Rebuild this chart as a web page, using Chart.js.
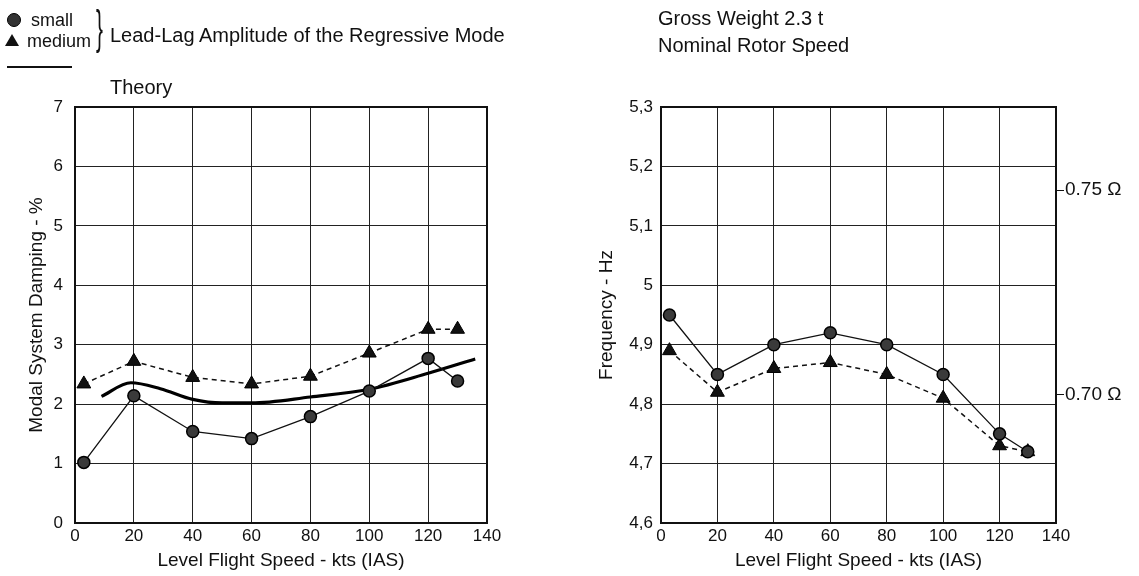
<!DOCTYPE html>
<html>
<head>
<meta charset="utf-8">
<script src="https://cdn.jsdelivr.net/npm/chart.js@4/dist/chart.umd.min.js"></script>
<style>
  html, body { margin: 0; padding: 0; background: #fff; }
  body { width: 1139px; height: 576px; position: relative; overflow: hidden;
         font-family: "Liberation Sans", Arial, sans-serif; color: #111; }
  .note { position: absolute; white-space: nowrap; line-height: 1; }
  #left-wrap { position: absolute; left: 0; top: 0; width: 570px; height: 576px; }
  #right-wrap { position: absolute; left: 570px; top: 0; width: 569px; height: 576px; }
  .brace { position: absolute; left: 96px; top: 4px; font-size: 46px; line-height: 1;
           transform: scaleX(0.45); transform-origin: left top; }
  .theory-line { position: absolute; left: 7px; top: 66px; width: 65px; border-top: 2px solid #111; }
  .mk-circle { position: absolute; left: 7px; top: 13px; width: 12px; height: 12px;
               border-radius: 50%; background: #333; border: 1px solid #000; }
  .mk-tri { position: absolute; left: 5px; top: 34px; width: 0; height: 0;
            border-left: 7px solid transparent; border-right: 7px solid transparent;
            border-bottom: 12px solid #111; }
</style>
</head>
<body>
<div id="left-wrap"><canvas id="chart-damping"></canvas></div>
<div id="right-wrap"><canvas id="chart-freq"></canvas></div>

<div class="mk-circle"></div>
<div class="note" style="left:31px; top:11px; font-size:18px;">small</div>
<div class="mk-tri"></div>
<div class="note" style="left:27px; top:32px; font-size:18px;">medium</div>
<div class="brace">}</div>
<div class="note" style="left:110px; top:25px; font-size:20px;">Lead-Lag Amplitude of the Regressive Mode</div>
<div class="theory-line"></div>
<div class="note" style="left:110px; top:77px; font-size:20px;">Theory</div>
<div class="note" style="left:658px; top:8px; font-size:20px;">Gross Weight 2.3 t</div>
<div class="note" style="left:658px; top:35px; font-size:20px;">Nominal Rotor Speed</div>

<script>
'use strict';

// flight speeds of the test points, kts (IAS)
var speeds = [3, 20, 40, 60, 80, 100, 120, 130];

// modal damping, %
var dampSmall  = [1.02, 2.14, 1.54, 1.42, 1.79, 2.22, 2.77, 2.39];
var dampMedium = [2.34, 2.72, 2.45, 2.34, 2.47, 2.86, 3.26, 3.26];

// theory curve
var theorySpeed = [9, 19, 29, 40, 50, 60, 80, 100, 120, 136];
var theoryDamp  = [2.13, 2.36, 2.26, 2.08, 2.02, 2.02, 2.12, 2.25, 2.52, 2.76];

// regressive mode frequency, Hz
var freqSmall  = [4.95, 4.85, 4.90, 4.92, 4.90, 4.85, 4.75, 4.72];
var freqMedium = [4.89, 4.82, 4.86, 4.87, 4.85, 4.81, 4.73, 4.72];

// rotor speed reference ticks on the right side
var omegaHz = 6.88;
var omegaTicks = [0.70, 0.75];

var FONT = 'Liberation Sans';
var INK = '#111';
var TICK_SIZE = 17;
var TITLE_SIZE = 19;

function pts(xs, ys) {
    return xs.map(function(x, i) { return { x: x, y: ys[i] }; });
}

var framePlugin = {
    id: 'frame',
    beforeDatasetsDraw: function(chart) {
        var a = chart.chartArea, ctx = chart.ctx;
        ctx.save();
        ctx.strokeStyle = INK;
        ctx.lineWidth = 2;
        ctx.strokeRect(a.left, a.top, a.right - a.left, a.bottom - a.top);
        ctx.restore();
    }
};

function circleSet(data) {
    return {
        data: data, borderColor: INK, borderWidth: 1.3,
        pointStyle: 'circle', pointRadius: 6, pointBackgroundColor: '#3a3a3a',
        pointBorderColor: '#000', pointBorderWidth: 1.5, tension: 0
    };
}

function triangleSet(data) {
    return {
        data: data, borderColor: INK, borderWidth: 1.5, borderDash: [5, 4],
        pointStyle: 'triangle', pointRadius: 8, pointBackgroundColor: '#111',
        pointBorderColor: '#000', pointBorderWidth: 1, tension: 0
    };
}

function xAxis() {
    return {
        type: 'linear', min: 0, max: 140,
        afterFit: function(s) { s.height = 53; },
        ticks: { stepSize: 20, color: INK, padding: 3, font: { family: FONT, size: TICK_SIZE } },
        grid: { color: '#222', lineWidth: 1, drawTicks: false },
        border: { display: false },
        title: { display: true, text: 'Level Flight Speed - kts (IAS)', color: INK,
                 font: { family: FONT, size: TITLE_SIZE }, padding: { top: 5 } }
    };
}

new Chart(document.getElementById('chart-damping'), {
    type: 'line',
    data: {
        datasets: [
            circleSet(pts(speeds, dampSmall)),
            triangleSet(pts(speeds, dampMedium)),
            {
                data: pts(theorySpeed, theoryDamp), borderColor: '#000', borderWidth: 3.2,
                pointRadius: 0, cubicInterpolationMode: 'monotone'
            }
        ]
    },
    options: {
        responsive: true, maintainAspectRatio: false, animation: false,
        layout: { padding: { top: 107, right: 83, left: 0, bottom: 0 } },
        plugins: { legend: { display: false }, tooltip: { enabled: false } },
        scales: {
            x: xAxis(),
            y: {
                min: 0, max: 7,
                afterFit: function(s) { s.width = 75; },
                ticks: { stepSize: 1, color: INK, padding: 12, font: { family: FONT, size: TICK_SIZE } },
                grid: { color: '#222', lineWidth: 1, drawTicks: false },
                border: { display: false },
                title: { display: true, text: 'Modal System Damping - %', color: INK,
                         font: { family: FONT, size: TITLE_SIZE }, padding: { top: 25, bottom: 0 } }
            }
        }
    },
    plugins: [framePlugin]
});

new Chart(document.getElementById('chart-freq'), {
    type: 'line',
    data: {
        datasets: [
            circleSet(pts(speeds, freqSmall)),
            triangleSet(pts(speeds, freqMedium))
        ]
    },
    options: {
        responsive: true, maintainAspectRatio: false, animation: false,
        layout: { padding: { top: 107, right: 0, left: 0, bottom: 0 } },
        plugins: { legend: { display: false }, tooltip: { enabled: false } },
        scales: {
            x: xAxis(),
            y: {
                min: 4.6, max: 5.3,
                afterFit: function(s) { s.width = 91; },
                ticks: {
                    stepSize: 0.1, color: INK, padding: 8, font: { family: FONT, size: TICK_SIZE },
                    callback: function(v) { return String(parseFloat(v.toFixed(1))).replace('.', ','); }
                },
                grid: { color: '#222', lineWidth: 1, drawTicks: false },
                border: { display: false },
                title: { display: true, text: 'Frequency - Hz', color: INK,
                         font: { family: FONT, size: TITLE_SIZE }, padding: { top: 25, bottom: 0 } }
            },
            omega: {
                position: 'right', min: 4.6, max: 5.3,
                afterFit: function(s) { s.width = 83; },
                afterBuildTicks: function(s) {
                    s.ticks = omegaTicks.map(function(w) { return { value: w * omegaHz }; });
                },
                ticks: {
                    color: INK, padding: 1, font: { family: FONT, size: 19 },
                    callback: function(v) {
                        var w = v / omegaHz;
                        return w.toFixed(2) + ' \u03A9';
                    }
                },
                grid: { drawOnChartArea: false, drawTicks: true, tickLength: 8, color: INK, lineWidth: 1 },
                border: { display: false }
            }
        }
    },
    plugins: [framePlugin]
});
</script>
</body>
</html>
